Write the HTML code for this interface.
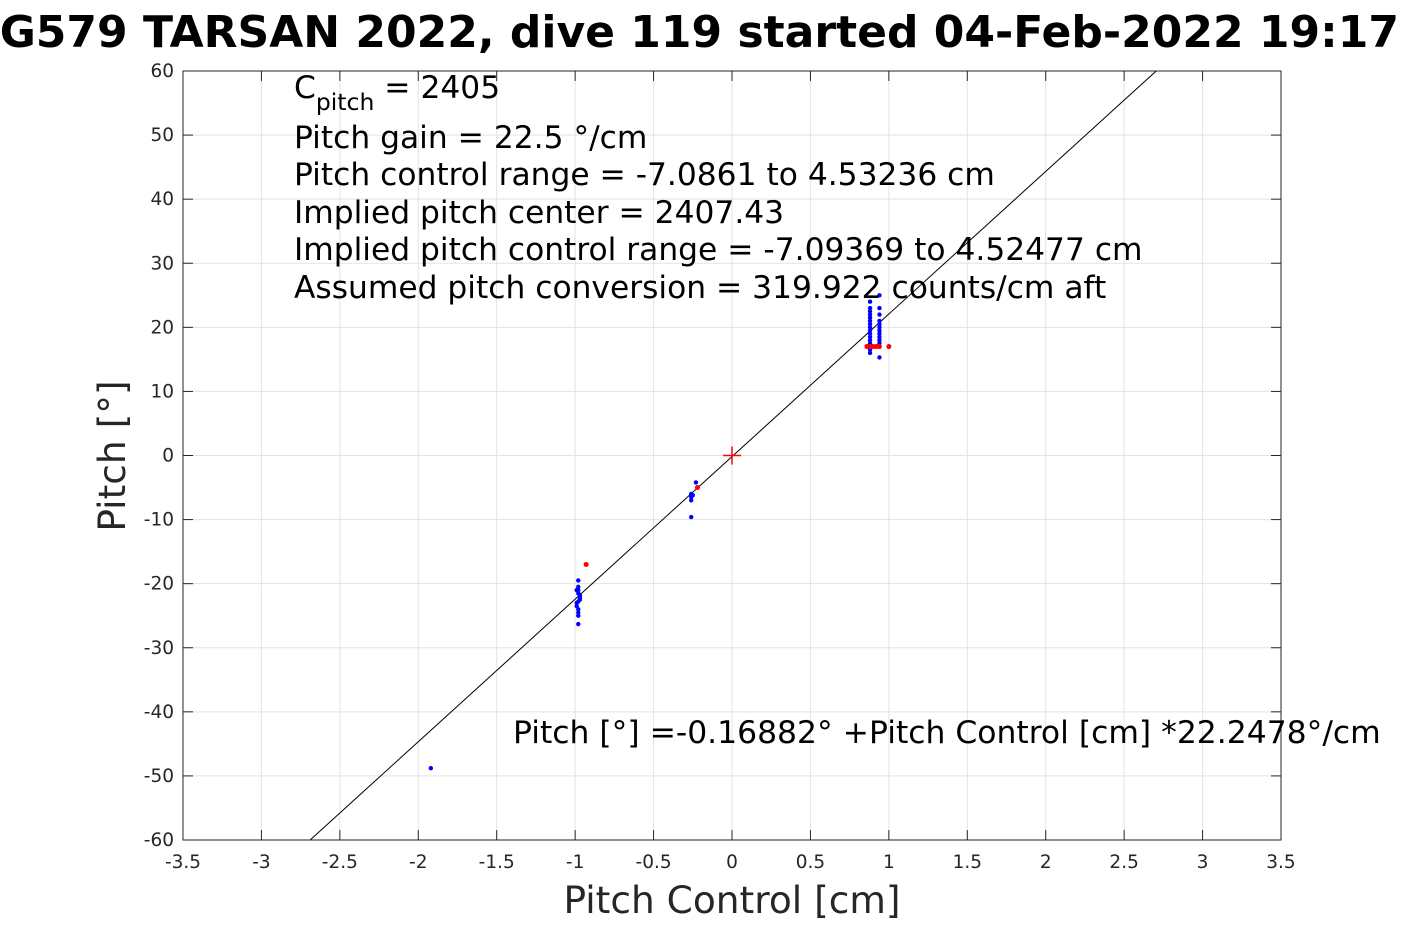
<!DOCTYPE html>
<html><head><meta charset="utf-8"><style>
html,body{margin:0;padding:0;background:#fff;width:1417px;height:945px;overflow:hidden}
svg{display:block;font-family:"DejaVu Sans","Liberation Sans",sans-serif}
</style></head><body>
<svg id="chart" width="1417" height="945" xmlns="http://www.w3.org/2000/svg">
<text x="-32" y="47" font-size="44" font-weight="bold" fill="#000">SG579 TARSAN 2022, dive 119 started 04-Feb-2022 19:17</text>
<g id="grid"></g>
<rect x="183" y="71" width="1098" height="769" fill="none" stroke="#262626" stroke-width="1"/>
<g id="ticks"></g>
<g id="marks"></g>
<g font-size="31.3" fill="#000">
<text x="294" y="98">C<tspan font-size="23.5" dy="12">pitch</tspan><tspan dy="-12"> = 2405</tspan></text>
<text x="294" y="148">Pitch gain = 22.5 °/cm</text>
<text x="294" y="185">Pitch control range = -7.0861 to 4.53236 cm</text>
<text x="294" y="223">Implied pitch center = 2407.43</text>
<text x="294" y="260">Implied pitch control range = -7.09369 to 4.52477 cm</text>
<text x="294" y="298">Assumed pitch conversion = 319.922 counts/cm aft</text>
</g>
<text x="513" y="743" font-size="31.4" fill="#000">Pitch [°] =-0.16882° +Pitch Control [cm] *22.2478°/cm</text>
<text x="732" y="913" font-size="37.5" text-anchor="middle" fill="#262626">Pitch Control [cm]</text>
<text transform="translate(125,456) rotate(-90)" font-size="37.5" text-anchor="middle" fill="#262626">Pitch [°]</text>
</svg>
<script>
const xTicks=[-3.5,-3,-2.5,-2,-1.5,-1,-0.5,0,0.5,1,1.5,2,2.5,3,3.5];
const yTicks=[-60,-50,-40,-30,-20,-10,0,10,20,30,40,50,60];
const fitIntercept=-0.16882;
const fitSlope=22.2478;
const blueX=[0.88,0.88,0.88,0.88,0.88,0.88,0.88,0.88,0.88,0.88,0.88,0.88,0.88,0.88,0.88,0.88,0.94,0.94,0.94,0.94,0.94,0.94,0.94,0.94,0.94,0.94,0.94,0.94,0.94,-0.98,-0.98,-0.98,-0.98,-0.97,-0.97,-0.99,-0.99,-0.98,-0.97,-0.98,-0.98,-0.99,-0.98,-0.97,-0.98,-0.26,-0.26,-0.26,-0.25,-0.23,-0.26,-1.92];
const blueY=[24,23,22,21.5,21,20.5,20,19.5,19,18.5,18,17.5,17,16.5,16,22.5,25,23,22,21,20.5,20,19.5,19,18.5,18,17.5,17,15.3,-19.5,-20.5,-21,-21.5,-22,-22.5,-23,-23.5,-24,-21.8,-22.8,-24.5,-21,-25,-22.3,-26.3,-6,-6.5,-7,-6.2,-4.2,-9.6,-48.8];
const redX=[0.86,0.88,0.9,0.92,0.94,1.0,-0.93,-0.22];
const redY=[17,17,17,17,17,17,-17,-5];
const NS='http://www.w3.org/2000/svg';
const X0=183,X1=1281,Y0=840,Y1=71;
function sx(v){return X0+(v+3.5)/7*(X1-X0);}
function sy(v){return Y0-(v+60)/120*(Y0-Y1);}
function mk(tag,attrs,parent){const e=document.createElementNS(NS,tag);for(const k in attrs)e.setAttribute(k,attrs[k]);parent.appendChild(e);return e;}
const grid=document.getElementById('grid'),ticks=document.getElementById('ticks'),marks=document.getElementById('marks');
xTicks.forEach(t=>{const x=sx(t);
 const g=mk('line',{x1:x,x2:x,y1:Y1,y2:Y0,stroke:'#e3e3e3','stroke-width':1},grid);
 
 
 const tk=mk('line',{x1:x,x2:x,y1:Y0,y2:Y0-10,stroke:'#262626'},ticks);
 
 
 const tk2=mk('line',{x1:x,x2:x,y1:Y1,y2:Y1+10,stroke:'#262626'},ticks);
 
 
 const l=mk('text',{x:x,y:Y0+28,'font-size':18.5,'text-anchor':'middle',fill:'#262626'},ticks);l.textContent=String(t);
 
 
});
yTicks.forEach(t=>{const y=sy(t);
 const g=mk('line',{x1:X0,x2:X1,y1:y,y2:y,stroke:'#e3e3e3','stroke-width':1},grid);
 
 
 const tk=mk('line',{x1:X0,x2:X0+10,y1:y,y2:y,stroke:'#262626'},ticks);
 
 
 const tk2=mk('line',{x1:X1,x2:X1-10,y1:y,y2:y,stroke:'#262626'},ticks);
 
 
 const l=mk('text',{x:X0-9,y:y+6,'font-size':18.5,'text-anchor':'end',fill:'#262626'},ticks);l.textContent=String(t);
 
 
});
let xa=(-60-fitIntercept)/fitSlope, xb=(60-fitIntercept)/fitSlope;
xa=Math.max(-3.5,xa); xb=Math.min(3.5,xb);
const fl=mk('line',{x1:sx(xa),y1:sy(fitIntercept+fitSlope*xa),x2:sx(xb),y2:sy(fitIntercept+fitSlope*xb),stroke:'#000','stroke-width':1},marks);


blueX.forEach((v,i)=>{const c=mk('circle',{cx:sx(v),cy:sy(blueY[i]),r:2.2,fill:'#0000ff'},marks);
 
 });
redX.forEach((v,i)=>{const c=mk('circle',{cx:sx(v),cy:sy(redY[i]),r:2.5,fill:'#ff0000'},marks);
 
 });
const cx=sx(0),cy=sy(0);
const p=mk('path',{d:`M${cx-9},${cy}H${cx+9}M${cx},${cy-9}V${cy+9}`,stroke:'#ff0000','stroke-width':1.5,fill:'none'},marks);


</script>
</body></html>
